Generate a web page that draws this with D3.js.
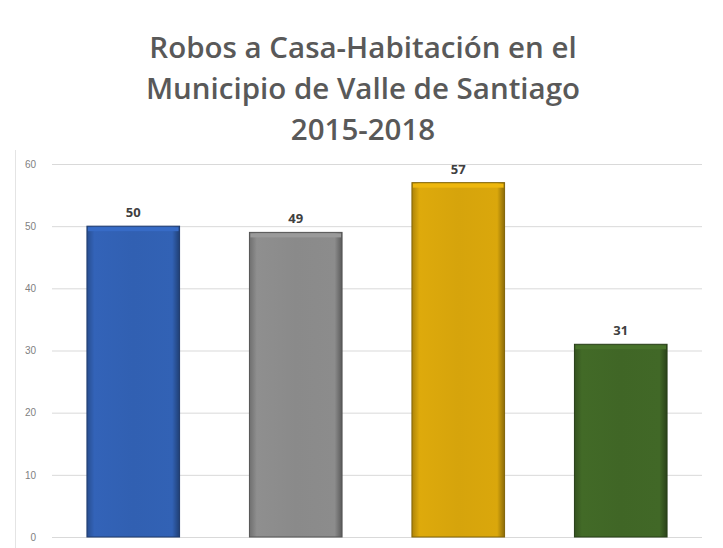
<!DOCTYPE html>
<html>
<head>
<meta charset="utf-8">
<script src="https://cdn.jsdelivr.net/npm/d3@7"></script>
<style>
  body { margin: 0; background: #fff; }
  svg { display: block; }
</style>
</head>
<body>
<svg id="chart"></svg>
<script>
// data
const years = ['2015', '2016', '2017', '2018']
const robos = [50, 49, 57, 31]
const barColors = ['#3160b2', '#8a8a8a', '#d6a40c', '#406626']
const yTicks = [0, 10, 20, 30, 40, 50, 60]
const titleLines = ['Robos a Casa-Habitación en el', 'Municipio de Valle de Santiago', '2015-2018']

const width = 723
const height = 548
const margin = { top: 164, right: 21, bottom: 11, left: 52 }

const svg = d3.select('#chart').attr('width', width).attr('height', height)

const xScale = d3.scaleBand().domain(years).range([margin.left, width - margin.right]).paddingInner(0.43).paddingOuter(0.215)
const yScale = d3.scaleLinear().domain([0, 60]).range([height - margin.bottom, margin.top])

// faint frame on the left
svg.append('line')
  .attr('x1', 15.5).attr('x2', 15.5).attr('y1', 150).attr('y2', height)
  .style('stroke', '#e4e4e4')

// title
svg.append('g').selectAll('text')
  .data(titleLines)
  .join('text')
  .attr('x', 363)
  .attr('y', (d, i) => 58 + i * 41)
  .attr('text-anchor', 'middle')
  .style('font-family', '"Open Sans", "Liberation Sans", sans-serif')
  .style('font-weight', 600)
  .style('font-size', '29.5px')
  .style('fill', '#595959')
  .text(d => d)

// gridlines + tick labels
const yAxis = d3.axisLeft(yScale).tickValues(yTicks).tickSize(-(width - margin.left - margin.right)).tickPadding(16)
const axisG = svg.append('g')
  .attr('transform', `translate(${margin.left},0)`)
  .call(yAxis)
axisG.select('.domain').remove()
axisG.selectAll('.tick line').style('stroke', '#d9d9d9')
axisG.selectAll('.tick text')
  .style('font-family', '"Liberation Sans", sans-serif')
  .style('font-size', '10px')
  .style('fill', '#7f7f7f')

// bevel gradients
const defs = svg.append('defs')
barColors.forEach((c, i) => {
  const g = defs.append('linearGradient').attr('id', 'grad' + i).attr('x1', 0).attr('x2', 1).attr('y1', 0).attr('y2', 0)
  const base = d3.color(c)
  g.append('stop').attr('offset', '0%').attr('stop-color', base.darker(0.6))
  g.append('stop').attr('offset', '8%').attr('stop-color', base.brighter(0.1))
  g.append('stop').attr('offset', '50%').attr('stop-color', base)
  g.append('stop').attr('offset', '92%').attr('stop-color', base.brighter(0.05))
  g.append('stop').attr('offset', '100%').attr('stop-color', base.darker(1.2))
})

const bars = svg.append('g').selectAll('g')
  .data(robos)
  .join('g')

bars.append('rect')
  .attr('x', (d, i) => xScale(years[i]))
  .attr('y', d => yScale(d))
  .attr('width', xScale.bandwidth())
  .attr('height', d => yScale(0) - yScale(d))
  .style('fill', (d, i) => `url(#grad${i})`)
  .style('stroke', (d, i) => d3.color(barColors[i]).darker(1.4))
  .style('stroke-width', 1)

// lighter top bevel strip
bars.append('rect')
  .attr('x', (d, i) => xScale(years[i]) + 1)
  .attr('y', d => yScale(d) + 1)
  .attr('width', xScale.bandwidth() - 2)
  .attr('height', 4)
  .style('fill', (d, i) => d3.color(barColors[i]).brighter(0.3))

// data labels
bars.append('text')
  .attr('x', (d, i) => xScale(years[i]) + xScale.bandwidth() / 2)
  .attr('y', d => yScale(d) - 9)
  .attr('text-anchor', 'middle')
  .style('font-family', '"Open Sans", "Liberation Sans", sans-serif')
  .style('font-weight', 'bold')
  .style('font-size', '13px')
  .style('fill', '#404040')
  .text(d => d)
</script>
</body>
</html>
